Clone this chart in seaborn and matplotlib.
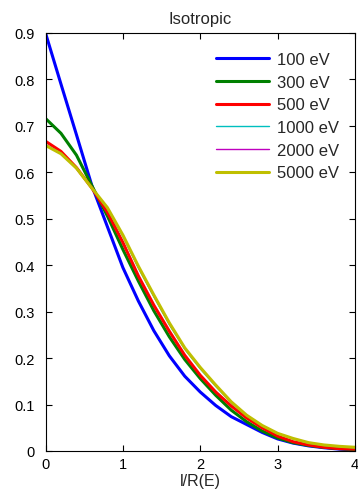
import matplotlib
matplotlib.use("Agg")
import matplotlib.pyplot as plt
import seaborn as sns
import pandas as pd

x_vals = [0.0, 0.2, 0.4, 0.6, 0.8, 1.0, 1.2, 1.4, 1.6, 1.8, 2.0,
          2.2, 2.4, 2.6, 2.8, 3.0, 3.2, 3.4, 3.6, 3.8, 4.0]

y_100 = [0.900, 0.790, 0.681, 0.571, 0.483, 0.395, 0.323, 0.259, 0.205, 0.161, 0.127,
         0.098, 0.074, 0.057, 0.040, 0.026, 0.017, 0.011, 0.007, 0.004, 0.002]
y_300 = [0.716, 0.684, 0.637, 0.571, 0.506, 0.434, 0.366, 0.302, 0.246, 0.197, 0.156,
         0.120, 0.088, 0.063, 0.043, 0.028, 0.018, 0.012, 0.008, 0.005, 0.003]
y_500 = [0.667, 0.645, 0.610, 0.566, 0.514, 0.449, 0.377, 0.314, 0.258, 0.206, 0.163,
         0.127, 0.097, 0.071, 0.050, 0.032, 0.020, 0.013, 0.008, 0.005, 0.004]
y_1000 = [0.660, 0.641, 0.609, 0.566, 0.522, 0.462, 0.394, 0.332, 0.272, 0.219, 0.177,
          0.139, 0.104, 0.076, 0.054, 0.037, 0.026, 0.017, 0.012, 0.009, 0.007]
y_2000 = [0.659, 0.640, 0.609, 0.566, 0.523, 0.464, 0.396, 0.334, 0.274, 0.221, 0.179,
          0.141, 0.105, 0.077, 0.055, 0.038, 0.027, 0.018, 0.013, 0.010, 0.008]
y_5000 = [0.658, 0.640, 0.609, 0.566, 0.524, 0.465, 0.398, 0.336, 0.276, 0.222, 0.180,
          0.142, 0.106, 0.077, 0.055, 0.038, 0.027, 0.018, 0.013, 0.010, 0.008]

labels = ["100 eV", "300 eV", "500 eV", "1000 eV", "2000 eV", "5000 eV"]
series = [y_100, y_300, y_500, y_1000, y_2000, y_5000]
x_ticks = [0, 1, 2, 3, 4]
y_ticks = [0, 0.1, 0.2, 0.3, 0.4, 0.5, 0.6, 0.7, 0.8, 0.9]

colors = ["#0000ff", "#008000", "#ff0000", "#00bfbf", "#bf00bf", "#bfbf00"]
widths = [2.2, 2.2, 2.2, 1.0, 1.0, 2.2]

sns.set_style("ticks")
plt.rcParams['font.family'] = ['Liberation Sans', 'DejaVu Sans']

fig = plt.figure(figsize=(3.58, 5.02), dpi=100)
ax = fig.add_axes([45.5/358, 50/502, 309.5/358, 418/502])

for lab, ys, c, w in zip(labels, series, colors, widths):
    df = pd.DataFrame({"x": x_vals, "y": ys})
    sns.lineplot(data=df, x="x", y="y", ax=ax, color=c, linewidth=w, label=lab)

ax.set_xlim(0, 4)
ax.set_ylim(0, 0.9)
ax.set_xticks(x_ticks)
ax.set_xticklabels([str(t) for t in x_ticks])
ax.set_yticks(y_ticks)
ax.set_yticklabels(["0"] + [f"{t:g}" for t in y_ticks[1:]])
ax.tick_params(direction='in', length=4, width=0.8, labelsize=10.5, colors='black',
               top=True, right=True)
ax.tick_params(axis='y', pad=7.5)
ax.tick_params(axis='x', pad=4.5)
for s in ax.spines.values():
    s.set_color('black')
    s.set_linewidth(0.8)
ax.set_xlabel("l/R(E)", fontsize=11.5, labelpad=1)
ax.set_ylabel("")
ax.set_title("Isotropic", fontsize=12, pad=7)

leg = ax.legend(loc='upper left', bbox_to_anchor=(216/358, 1 - 53/502),
                bbox_transform=fig.transFigure, frameon=False, fontsize=12,
                handlelength=3.2, handletextpad=0.45, labelspacing=0.46,
                borderaxespad=0, borderpad=0)

fig.savefig("out.png", dpi=100)
